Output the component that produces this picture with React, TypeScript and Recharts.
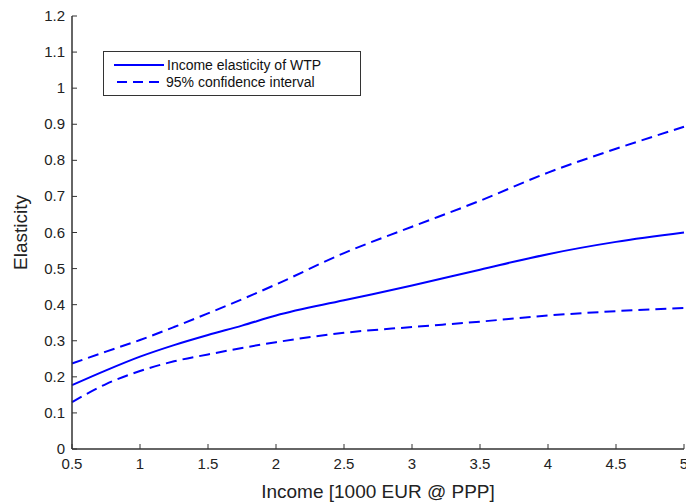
import React from 'react';
import { LineChart, Line, XAxis, YAxis, Legend } from 'recharts';

const incomes = [0.5, 0.75, 1, 1.25, 1.5, 1.75, 2, 2.5, 3, 3.5, 4, 4.5, 5];
const elasticity = [0.177, 0.218, 0.256, 0.288, 0.316, 0.342, 0.37, 0.412, 0.453, 0.497, 0.54, 0.574, 0.6];
const upperCI = [0.237, 0.27, 0.302, 0.338, 0.376, 0.415, 0.456, 0.543, 0.616, 0.688, 0.766, 0.832, 0.893];
const lowerCI = [0.13, 0.18, 0.216, 0.243, 0.262, 0.28, 0.296, 0.322, 0.338, 0.353, 0.37, 0.382, 0.391];

const xTicks = [0.5, 1, 1.5, 2, 2.5, 3, 3.5, 4, 4.5, 5];
const yTicks = [0, 0.1, 0.2, 0.3, 0.4, 0.5, 0.6, 0.7, 0.8, 0.9, 1, 1.1, 1.2];
const yTickLabels = ['0', '0.1', '0.2', '0.3', '0.4', '0.5', '0.6', '0.7', '0.8', '0.9', '1', '1.1', '1.2'];

const data = incomes.map((x, i) => ({
  x,
  mid: elasticity[i],
  hi: upperCI[i],
  lo: lowerCI[i],
}));

const FONT = '"Liberation Sans", Arial, sans-serif';
const AXIS = '#333333';
const BLUE = '#0000ff';

const BottomTick = (props: any) => {
  const { x, y, payload } = props;
  return (
    <g>
      <line x1={x} y1={y} x2={x} y2={y - 5} stroke={AXIS} strokeWidth={1} />
      <text x={x} y={y + 20} textAnchor="middle" fontFamily={FONT} fontSize={15} fill="#222">
        {String(payload.value)}
      </text>
    </g>
  );
};

const TopTick = (props: any) => {
  const { x, y } = props;
  return <line x1={x} y1={y} x2={x} y2={y + 5} stroke={AXIS} strokeWidth={1} />;
};

const LeftTick = (props: any) => {
  const { x, y, payload } = props;
  return (
    <g>
      <line x1={x} y1={y} x2={x + 5} y2={y} stroke={AXIS} strokeWidth={1} />
      <text x={x - 7} y={y + 5} textAnchor="end" fontFamily={FONT} fontSize={15} fill="#222">
        {yTickLabels[yTicks.indexOf(payload.value)] ?? String(payload.value)}
      </text>
    </g>
  );
};

const RightTick = (props: any) => {
  const { x, y } = props;
  return <line x1={x} y1={y} x2={x - 5} y2={y} stroke={AXIS} strokeWidth={1} />;
};

const LegendBox = () => (
  <svg width={258} height={45} style={{ display: 'block' }}>
    <rect x={0.5} y={0.5} width={257} height={44} fill="#fff" stroke={AXIS} strokeWidth={1} />
    <line x1={11} y1={14} x2={61} y2={14} stroke={BLUE} strokeWidth={2} />
    <text x={64} y={19} fontFamily={FONT} fontSize={14} fill="#111">Income elasticity of WTP</text>
    <line x1={14} y1={31} x2={61} y2={31} stroke={BLUE} strokeWidth={2} strokeDasharray="10 6" />
    <text x={63} y={36} fontFamily={FONT} fontSize={14} fill="#111">95% confidence interval</text>
  </svg>
);

export default function App() {
  return (
    <div style={{ position: 'absolute', left: 0, top: 0, width: 686, height: 502, background: '#fff' }}>
      <LineChart width={686} height={502} data={data} margin={{ top: 16, right: 2, bottom: 0, left: 0 }}>
        <XAxis
          xAxisId="b"
          dataKey="x"
          type="number"
          domain={[0.5, 5]}
          ticks={xTicks}
          height={53}
          tickSize={0}
          tickMargin={0}
          tickLine={false}
          axisLine={{ stroke: AXIS, strokeWidth: 1.5 }}
          tick={<BottomTick />}
          interval={0}
          label={{ value: 'Income [1000 EUR @ PPP]', position: 'insideBottom', offset: 4, style: { fontFamily: FONT, fontSize: 19, fill: '#222' } }}
        />
        <XAxis
          xAxisId="t"
          orientation="top"
          dataKey="x"
          type="number"
          domain={[0.5, 5]}
          ticks={xTicks}
          height={0}
          tickSize={0}
          tickMargin={0}
          tickLine={false}
          axisLine={{ stroke: AXIS, strokeWidth: 1.5 }}
          tick={<TopTick />}
          interval={0}
        />
        <YAxis
          yAxisId="l"
          type="number"
          domain={[0, 1.2]}
          ticks={yTicks}
          width={72}
          tickSize={0}
          tickMargin={0}
          tickLine={false}
          axisLine={{ stroke: AXIS, strokeWidth: 1.5 }}
          tick={<LeftTick />}
          interval={0}
          label={{ value: 'Elasticity', angle: -90, position: 'insideLeft', offset: 20, style: { fontFamily: FONT, fontSize: 19, fill: '#222', textAnchor: 'middle' } }}
        />
        <YAxis
          yAxisId="r"
          orientation="right"
          type="number"
          domain={[0, 1.2]}
          ticks={yTicks}
          width={0}
          tickSize={0}
          tickMargin={0}
          tickLine={false}
          axisLine={{ stroke: AXIS, strokeWidth: 1.5 }}
          tick={<RightTick />}
          interval={0}
        />
        <Legend
          layout="vertical"
          align="center"
          verticalAlign="middle"
          content={<LegendBox />}
          wrapperStyle={{ left: 103, top: 51, width: 258, height: 45 }}
        />
        <Line xAxisId="b" yAxisId="l" dataKey="hi" type="monotone" stroke={BLUE} strokeWidth={2} strokeDasharray="11 6" dot={false} isAnimationActive={false} />
        <Line xAxisId="b" yAxisId="l" dataKey="mid" type="monotone" stroke={BLUE} strokeWidth={2} dot={false} isAnimationActive={false} />
        <Line xAxisId="b" yAxisId="l" dataKey="lo" type="monotone" stroke={BLUE} strokeWidth={2} strokeDasharray="11 6" dot={false} isAnimationActive={false} />
      </LineChart>
    </div>
  );
}
